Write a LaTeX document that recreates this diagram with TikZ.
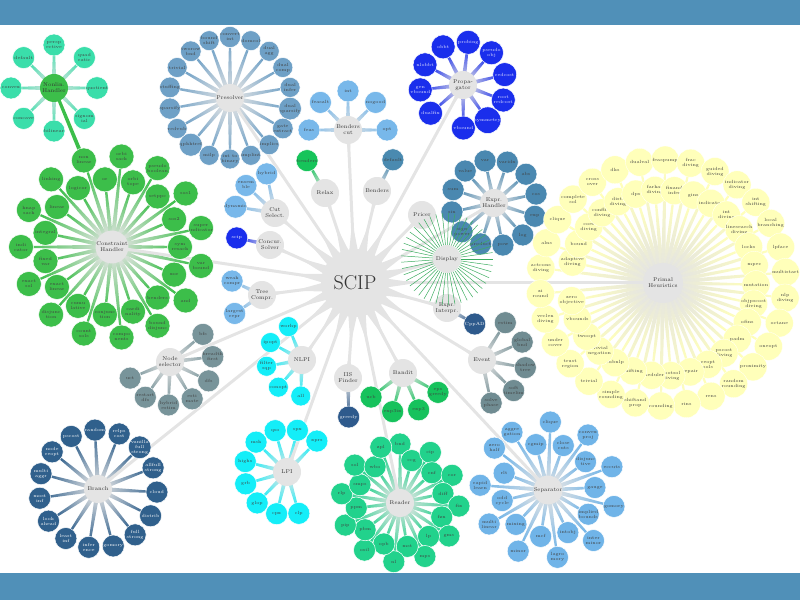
\documentclass[tikz,border=0pt]{standalone}
\usepackage{tikz}
\usetikzlibrary{backgrounds, calc}
\definecolor{barblue}{RGB}{80,144,184}
\definecolor{catgray}{RGB}{228,228,228}
\definecolor{presolc}{RGB}{110,160,198}
\definecolor{cutc}{RGB}{120,184,234}
\definecolor{propc}{RGB}{26,46,236}
\definecolor{bendc}{RGB}{74,138,176}
\definecolor{exprc}{RGB}{74,136,176}
\definecolor{relaxc}{RGB}{22,196,90}
\definecolor{consc}{RGB}{60,190,74}
\definecolor{nlhc}{RGB}{58,222,170}
\definecolor{nodesc}{RGB}{120,148,154}
\definecolor{branchc}{RGB}{48,96,140}
\definecolor{lpc}{RGB}{20,238,248}
\definecolor{darkc}{RGB}{46,90,140}
\definecolor{banditc}{RGB}{22,194,92}
\definecolor{readc}{RGB}{34,210,140}
\definecolor{sepac}{RGB}{112,180,232}
\definecolor{eventc}{RGB}{112,140,146}
\definecolor{heurc}{RGB}{255,255,186}
\definecolor{dispc}{RGB}{60,172,96}
\tikzstyle{cat}=[circle, fill=catgray, minimum size=28pt, inner sep=0pt, align=center, font=\fontsize{5.5}{6}\selectfont, text=black!80]
\tikzstyle{leaf}=[circle, draw=white, line width=0.5pt, minimum size=22pt, inner sep=0pt, align=center, font=\fontsize{4.5}{5}\selectfont, text=black!75]
\tikzstyle{link}=[catgray, line width=3pt]
\tikzstyle{displine}=[dispc, line width=0.5pt]

% tapered bar from #2 to #3, half widths #4 and #5
\newcommand{\spoke}[5][]{%
  \path[#1] ($(#2)!#4!90:(#3)$) -- ($(#3)!#5!-90:(#2)$)
    -- ($(#3)!#5!90:(#2)$) -- ($(#2)!#4!-90:(#3)$) -- cycle;}

% leaves round #2: colour, odd/even radius, first angle, step, labels
\newcommand{\ring}[8][]{%
  \foreach \lab [count=\i] in {#8} {
    \pgfmathsetmacro\ang{#6+(#7)*(\i-1)}
    \pgfmathsetmacro\rad{#5+(#4-#5)*mod(\i,2)}
    \pgfmathsetmacro\sang{\ang-90}
    \node[leaf, fill=#3, #1] (#2-\i) at ($(#2)+(\ang:\rad)$) {\lab};
    \begin{scope}[on background layer]
      \spoke[bottom color=catgray, top color=#3, shading angle=\sang]{#2}{#2-\i}{2.4pt}{0.9pt}
    \end{scope}
  }}

\begin{document}
\begin{tikzpicture}[x=1pt, y=1pt]
  \useasboundingbox (0,0) rectangle (800,600);
  \fill[barblue] (0,575) rectangle (800,600);
  \fill[barblue] (0,0) rectangle (800,27);

  % plugin types
  \node[cat, minimum size=68pt, font=\fontsize{20}{22}\selectfont] (scip) at (355,317) {SCIP};
  \node[cat, minimum size=30pt] (consh) at (112,353) {Constraint\\Handler};
  \node[cat, fill=consc] (nlhdlr) at (54,512) {Nonlin.\\Handler};
  \node[cat] (presol) at (230,502) {Presolver};
  \node[cat] (benderscut) at (348,470) {Benders\\cut};
  \node[cat] (prop) at (463,515) {Propa-\\gator};
  \node[cat] (relax) at (325,407) {Relax};
  \node[cat] (benders) at (377,409) {Benders};
  \node[cat] (pricer) at (422,385) {Pricer};
  \node[cat] (exprhdlr) at (494,397) {Expr.\\Handler};
  \node[cat] (disp) at (447,341) {Display};
  \node[cat, minimum size=40pt] (heur) at (663,317) {Primal\\Heuristics};
  \node[cat] (exprint) at (447,292) {Expr.\\Interpr.};
  \node[cat] (event) at (482,240) {Event};
  \node[cat] (sepa) at (548,110) {Separator};
  \node[cat] (reader) at (400,97) {Reader};
  \node[cat] (bandit) at (403,227) {Bandit};
  \node[cat] (iis) at (348,222) {IIS\\Finder};
  \node[cat] (lpi) at (287,128) {LPI};
  \node[cat] (nlpi) at (302,240) {NLPI};
  \node[cat] (branch) at (98,111) {Branch};
  \node[cat] (nodesel) at (170,238) {Node\\selector};
  \node[cat] (treecompr) at (262,305) {Tree\\Compr.};
  \node[cat] (concsolver) at (270,355) {Concur.\\Solver};
  \node[cat] (cutsel) at (275,387) {Cut\\Select.};

  % leaves
  \ring[minimum size=25pt]{consh}{consc}{91}{68}{-36}{-12}{and, benders, bound\\disjunc, cardi\\nality, compo\\nents, conjunc\\tion, count\\sols, cumu\\lative, disjunc\\tion, exact\\linear, exact\\sol, fixed\\var, indi\\cator, integral, knap\\sack, linear, linking, logicor, non\\linear, or, orbi\\sack, orbi\\tope, pseudo\\boolean, setppc, sos1, sos2, super\\indicator, sym\\resack, var\\bound, xor}
  \ring{nlhdlr}{nlhc}{43}{43}{-90}{-45}{bilinear, concave, convex, default, persp\\ective, quad\\ratic, quotient, signom\\ial}
  \ring[minimum size=20pt]{presol}{presolc}{61}{61}{110}{-20}{bound\\shift, convert\\int, domcol, dual\\agg, dual\\comp, dual\\infer, dual\\sparsify, gate\\extract, implics, implint, int to\\binary, milp, qpkktref, redvub, sparsify, stuffing, trivial, tworow\\bnd}
  \ring{benderscut}{cutc}{39}{39}{180}{-45}{feas, feasalt, int, nogood, opt}
  \ring[minimum size=24pt, text=white!90!blue]{prop}{propc}{43}{43}{221}{-34.5}{dualfix, gen\\vbound, nlobbt, obbt, probing, pseudo\\obj, redcost, root\\redcost, symmetry, vbound}
  \ring{relax}{relaxc}{37}{37}{119}{0}{benders}
  \ring{benders}{bendc}{35}{35}{63}{0}{default}
  \ring{exprhdlr}{exprc}{43}{43}{42}{-30}{abs, cos, exp, log, pow, product, sign\\power, sin, sum, value, var, varidx}
  \ring[minimum size=28pt, line width=0.3pt]{heur}{heurc}{123}{93}{173}{-6}{actcons\\diving, adaptive\\diving, alns, bound, clique, coef\\diving, complete\\sol, conflict\\diving, cross\\over, dist.\\diving, dks, dps, dualval, farkas\\diving, feaspump, fixand\\infer, frac\\diving, gins, guided\\diving, indicator, indicator\\diving, int\\diving, int\\shifting, linesearch\\diving, local\\branching, locks, lpface, mpec, multistart, mutation, nlp\\diving, objpscost\\diving, octane, ofins, oneopt, padm, proximity, pscost\\diving, random\\rounding, reopt\\sols, rens, repair, rins, rootsol\\diving, rounding, scheduler, shiftand\\prop, shifting, simple\\rounding, subnlp, trivial, trivial\\negation, trust\\region, twoopt, under\\cover, vbounds, veclen\\diving, zero\\objective, zi\\round}
  \ring[text=white]{exprint}{darkc}{32}{32}{-30}{0}{CppAD}
  \ring{event}{eventc}{44}{44}{58}{-34}{estim, global\\bnd, shadow\\tree, soft\\timelim, solve\\phase}
  \ring{sepa}{sepac}{68}{47}{122}{-17}{aggre\\gation, cgmip, clique, close\\cuts, convex\\proj, disjunc\\tive, eccuts, gauge, gomory, implied\\bounds, inter\\minor, intobj, lagro\\mory, mcf, minor, mixing, multi\\linear, odd\\cycle, rapid\\learn, rlt, zero\\half}
  \ring{reader}{readc}{59}{44}{90}{-15.5}{bnd, ccg, cip, cnf, cor, diff, fix, fzn, gms, lp, mps, mst, nl, opb, osil, pbm, pip, ppm, rlp, smps, sol, wbo, zpl}
  \ring{bandit}{banditc}{40}{40}{-29}{-38}{eps\\greedy, exp3, exp3ix, ucb}
  \ring[text=white]{iis}{darkc}{39}{39}{-89}{0}{greedy}
  \ring{lpi}{lpc}{43}{43}{-74}{-30}{clp, cpx, glop, grb, highs, msk, qso, spx, xprs}
  \ring[minimum size=20pt]{nlpi}{lpc}{36}{36}{-92}{-39}{all, conopt, filter\\sqp, ipopt, worhp}
  \ring[text=white]{branch}{branchc}{59}{59}{21}{-24}{allfull\\strong, cloud, distrib, full\\strong, gomory, infer\\ence, least\\inf, look\\ahead, most\\inf, multi\\aggr, node\\reopt, pscost, random, relps\\cost, vanilla\\full\\strong}
  \ring{nodesel}{nodesc}{43}{43}{40}{-33}{bfs, breadth\\first, dfs, esti\\mate, hybrid\\estim, restart\\dfs, uct}
  \ring{treecompr}{cutc}{33}{33}{214}{-59}{largest\\repr, weak\\compr}
  \ring[text=white]{concsolver}{propc}{34}{34}{168}{0}{scip}
  \ring{cutsel}{cutc}{40}{40}{171}{-34.5}{dynamic, ensem\\ble, hybrid}

  % links
  \begin{scope}[on background layer]
    \spoke[fill=consc]{consh-19}{nlhdlr}{2pt}{1.5pt}
    \foreach \c in {consh, presol, benderscut, prop, relax, benders, pricer, exprhdlr, disp, heur, exprint, event, sepa, reader, bandit, iis, lpi, nlpi, branch, nodesel, treecompr, concsolver, cutsel} {
      \draw[link] (scip) -- (\c);
      \fill[catgray] ($(scip)!9pt!90:(\c)$) -- ($(scip)!62pt!(\c)$) -- ($(scip)!9pt!-90:(\c)$) -- cycle;
      \fill[catgray] ($(\c)!4pt!90:(scip)$) -- ($(\c)!26pt!(scip)$) -- ($(\c)!4pt!-90:(scip)$) -- cycle;
    }
  \end{scope}

  % display columns
  \foreach \a in {0,8,...,352} {
    \coordinate (disp-\a) at ($(disp)+(\a:46)$);
    \draw[displine] (disp) -- (disp-\a);
  }
\end{tikzpicture}
\end{document}
